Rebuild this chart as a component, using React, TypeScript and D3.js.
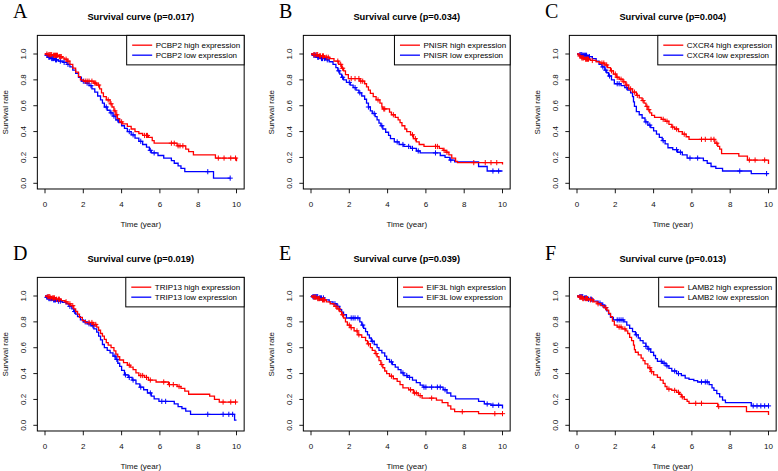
import React from "react";
import * as d3 from "d3";

// ---------- labels ----------
const panelLetters = ["A", "B", "C", "D", "E", "F"];
const genes = ["PCBP2", "PNISR", "CXCR4", "TRIP13", "EIF3L", "LAMB2"];
const pValues = ["0.017", "0.034", "0.004", "0.019", "0.039", "0.013"];
const xTicks = [0, 2, 4, 6, 8, 10];
const xTickLabels = ["0", "2", "4", "6", "8", "10"];
const yTicks = [0, 0.2, 0.4, 0.6, 0.8, 1.0];
const yTickLabels = ["0.0", "0.2", "0.4", "0.6", "0.8", "1.0"];

// ---------- data: [time, survival after drop] ----------
const aHighSteps = [[0.15,0.995],[0.4,0.99],[0.7,0.98],[0.9,0.97],[1.0,0.96],[1.15,0.945],[1.3,0.92],[1.45,0.89],[1.6,0.86],[1.75,0.825],[1.85,0.8],[2.0,0.79],[2.55,0.775],[2.7,0.76],[2.85,0.73],[2.95,0.7],[3.05,0.67],[3.2,0.645],[3.4,0.615],[3.5,0.59],[3.6,0.56],[3.7,0.53],[3.78,0.5],[3.9,0.475],[4.05,0.46],[4.3,0.44],[4.5,0.42],[4.7,0.4],[4.9,0.385],[5.1,0.37],[5.4,0.355],[5.6,0.33],[5.7,0.31],[6.9,0.29],[7.35,0.265],[7.5,0.245],[7.75,0.22],[8.9,0.195],[10.0,0.17]];
const aHighCensor = [0.1,0.2,0.25,0.3,0.35,0.45,0.5,0.55,0.6,0.65,0.75,0.8,0.85,1.1,1.2,2.1,2.2,2.3,2.45,2.6,2.65,2.8,3.3,3.45,3.65,3.75,4.0,5.2,5.3,5.35,6.6,6.75,6.95,7.05,7.2,9.05,9.35,9.7,9.95];
const aHighEnd = 10;
const aLowSteps = [[0.05,0.99],[0.15,0.975],[0.3,0.965],[0.5,0.955],[0.7,0.945],[0.95,0.935],[1.15,0.92],[1.3,0.9],[1.45,0.875],[1.6,0.85],[1.75,0.82],[1.9,0.79],[2.1,0.775],[2.3,0.755],[2.45,0.73],[2.6,0.705],[2.75,0.675],[2.9,0.645],[3.0,0.62],[3.1,0.59],[3.25,0.565],[3.4,0.545],[3.55,0.52],[3.7,0.49],[3.85,0.47],[4.0,0.445],[4.15,0.425],[4.3,0.4],[4.5,0.375],[4.7,0.35],[4.9,0.325],[5.1,0.3],[5.3,0.28],[5.45,0.255],[5.55,0.235],[5.9,0.215],[6.2,0.195],[6.6,0.175],[6.75,0.155],[6.95,0.135],[7.1,0.115],[7.3,0.09],[8.8,0.04]];
const aLowCensor = [0.1,0.2,0.25,0.35,0.4,0.45,0.55,0.6,0.8,1.0,1.2,2.0,2.2,2.4,3.2,3.45,3.6,3.8,4.4,4.6,5.0,5.5,5.7,8.5,9.67];
const aLowEnd = 9.67;

const bHighSteps = [[0.1,0.995],[0.4,0.985],[0.7,0.975],[0.95,0.965],[1.2,0.945],[1.45,0.92],[1.6,0.89],[1.7,0.87],[1.8,0.84],[1.95,0.81],[2.55,0.79],[2.8,0.77],[2.9,0.745],[3.0,0.72],[3.1,0.695],[3.25,0.67],[3.4,0.645],[3.6,0.62],[3.7,0.59],[3.75,0.575],[4.1,0.55],[4.2,0.53],[4.4,0.51],[4.55,0.49],[4.65,0.47],[4.75,0.445],[4.9,0.42],[5.0,0.4],[5.2,0.375],[5.35,0.345],[5.5,0.32],[5.65,0.3],[5.9,0.285],[6.7,0.27],[6.9,0.255],[7.05,0.24],[7.2,0.22],[7.35,0.195],[7.55,0.17],[7.65,0.16],[10.0,0.145]];
const bHighCensor = [0.15,0.2,0.3,0.35,0.45,0.5,0.6,0.65,0.8,0.9,1.4,1.55,1.65,2.1,2.3,2.5,2.6,2.7,3.5,3.8,3.85,4.3,5.3,5.45,6.5,6.6,6.95,7.1,8.5,9.1,9.4,9.7];
const bHighEnd = 10;
const bLowSteps = [[0.1,0.99],[0.3,0.975],[0.5,0.965],[0.75,0.955],[0.95,0.94],[1.15,0.92],[1.3,0.895],[1.4,0.87],[1.5,0.845],[1.6,0.82],[1.7,0.8],[1.85,0.78],[2.05,0.76],[2.2,0.74],[2.35,0.72],[2.5,0.7],[2.65,0.675],[2.8,0.65],[2.9,0.62],[3.0,0.59],[3.1,0.56],[3.2,0.54],[3.35,0.515],[3.45,0.49],[3.55,0.465],[3.65,0.445],[3.75,0.42],[3.9,0.395],[4.05,0.37],[4.15,0.345],[4.35,0.32],[4.6,0.3],[4.85,0.285],[5.2,0.27],[5.5,0.25],[5.7,0.235],[6.75,0.215],[7.0,0.2],[7.25,0.18],[7.5,0.165],[8.75,0.13],[9.2,0.095]];
const bLowCensor = [0.15,0.2,0.25,0.35,0.4,0.55,0.6,0.7,0.85,1.45,1.65,2.0,2.3,2.55,3.0,3.3,3.7,4.5,4.8,5.1,5.3,5.6,6.5,7.3,9.5,9.8];
const bLowEnd = 10;

const cHighSteps = [[0.1,0.985],[0.2,0.97],[0.4,0.96],[0.7,0.95],[1.0,0.94],[1.2,0.93],[1.45,0.915],[1.6,0.895],[1.75,0.87],[1.9,0.845],[2.05,0.82],[2.2,0.805],[2.4,0.785],[2.55,0.76],[2.7,0.73],[2.9,0.705],[3.1,0.68],[3.25,0.66],[3.4,0.64],[3.5,0.62],[3.6,0.595],[3.7,0.57],[3.8,0.545],[3.9,0.525],[4.05,0.51],[4.4,0.495],[4.6,0.48],[4.8,0.455],[4.95,0.435],[5.1,0.42],[5.3,0.4],[5.5,0.38],[5.7,0.36],[5.85,0.34],[7.2,0.31],[7.35,0.285],[7.45,0.265],[7.55,0.23],[8.45,0.21],[8.9,0.18],[10.0,0.15]];
const cHighCensor = [0.15,0.25,0.3,0.35,0.45,0.5,0.55,0.6,0.8,1.3,1.4,1.55,1.8,2.0,2.1,2.3,2.45,2.6,2.8,3.0,3.15,3.45,3.65,3.75,4.5,4.7,5.0,5.2,5.6,6.5,6.7,7.0,7.15,7.3,9.0,9.3,9.8];
const cHighEnd = 10;
const cLowSteps = [[0.1,0.995],[0.3,0.99],[0.6,0.98],[0.8,0.965],[1.0,0.945],[1.15,0.92],[1.3,0.9],[1.45,0.875],[1.55,0.855],[1.65,0.83],[1.8,0.8],[1.95,0.77],[2.3,0.755],[2.5,0.74],[2.65,0.72],[2.8,0.7],[2.9,0.67],[2.95,0.63],[3.0,0.595],[3.1,0.555],[3.25,0.53],[3.4,0.505],[3.55,0.475],[3.7,0.45],[3.85,0.43],[4.0,0.405],[4.15,0.38],[4.3,0.355],[4.45,0.33],[4.6,0.305],[4.75,0.275],[5.0,0.26],[5.25,0.24],[5.5,0.22],[5.75,0.195],[6.6,0.175],[6.8,0.155],[7.0,0.13],[7.25,0.115],[7.6,0.095],[9.1,0.075]];
const cLowCensor = [0.15,0.2,0.25,0.3,0.35,0.4,0.45,0.5,0.65,1.35,1.5,1.7,2.1,2.2,2.6,3.6,3.8,4.5,5.2,5.4,5.9,6.3,8.5,9.9];
const cLowEnd = 10;

const dHighSteps = [[0.1,0.995],[0.3,0.985],[0.6,0.975],[0.85,0.965],[1.05,0.955],[1.2,0.94],[1.35,0.925],[1.5,0.9],[1.6,0.88],[1.7,0.86],[1.8,0.835],[1.95,0.81],[2.1,0.795],[2.5,0.78],[2.7,0.76],[2.8,0.735],[2.9,0.71],[3.0,0.69],[3.1,0.665],[3.2,0.64],[3.3,0.62],[3.45,0.6],[3.6,0.575],[3.7,0.55],[3.8,0.53],[3.9,0.505],[4.1,0.485],[4.3,0.465],[4.45,0.45],[4.6,0.43],[4.75,0.405],[4.9,0.385],[5.2,0.37],[5.4,0.35],[5.8,0.335],[6.45,0.315],[6.9,0.3],[7.1,0.285],[7.3,0.265],[7.5,0.24],[8.6,0.225],[8.85,0.2],[9.1,0.18]];
const dHighCensor = [0.15,0.2,0.25,0.3,0.4,0.45,0.5,0.6,0.7,0.75,1.1,1.3,1.45,2.3,2.45,2.55,2.65,4.4,5.0,5.1,5.3,5.5,6.2,6.5,6.7,7.0,9.3,9.7,9.95];
const dHighEnd = 10;
const dLowSteps = [[0.05,0.99],[0.2,0.98],[0.4,0.97],[0.65,0.96],[0.9,0.95],[1.1,0.94],[1.25,0.92],[1.4,0.9],[1.5,0.88],[1.6,0.86],[1.7,0.84],[1.85,0.815],[2.0,0.8],[2.2,0.785],[2.4,0.77],[2.55,0.745],[2.7,0.72],[2.8,0.69],[2.9,0.66],[3.0,0.625],[3.1,0.6],[3.25,0.58],[3.4,0.56],[3.55,0.535],[3.7,0.51],[3.8,0.48],[3.9,0.455],[4.0,0.425],[4.15,0.39],[4.35,0.37],[4.55,0.35],[4.75,0.32],[4.95,0.295],[5.15,0.275],[5.35,0.25],[5.55,0.225],[5.7,0.205],[5.95,0.185],[6.75,0.165],[6.95,0.145],[7.15,0.13],[7.35,0.11],[7.6,0.085],[9.9,0.04]];
const dLowCensor = [0.1,0.15,0.2,0.25,0.3,0.35,0.45,0.5,0.55,0.7,0.8,1.3,1.55,2.1,2.3,2.5,3.65,3.75,4.2,4.4,4.6,5.0,5.5,6.1,6.3,8.5,9.3,9.6,9.8];
const dLowEnd = 10;

const eHighSteps = [[0.1,0.99],[0.3,0.98],[0.5,0.97],[0.8,0.955],[1.0,0.94],[1.2,0.92],[1.35,0.9],[1.5,0.88],[1.6,0.855],[1.7,0.83],[1.8,0.8],[1.9,0.775],[2.05,0.755],[2.25,0.73],[2.45,0.7],[2.65,0.68],[2.85,0.655],[2.95,0.63],[3.1,0.6],[3.2,0.58],[3.35,0.555],[3.45,0.53],[3.55,0.5],[3.65,0.47],[3.75,0.445],[3.85,0.42],[3.95,0.4],[4.1,0.38],[4.3,0.36],[4.5,0.34],[4.65,0.315],[4.8,0.29],[5.1,0.275],[5.35,0.25],[5.6,0.23],[5.8,0.21],[6.55,0.195],[6.85,0.175],[7.15,0.15],[7.3,0.125],[7.5,0.105],[8.75,0.09]];
const eHighCensor = [0.15,0.2,0.25,0.35,0.4,0.45,0.6,0.65,0.7,1.3,1.45,1.65,2.0,2.1,2.4,2.5,3.0,3.4,3.7,4.2,5.2,5.4,5.5,5.7,6.3,7.9,9.6,10.0];
const eHighEnd = 10;
const eLowSteps = [[0.1,0.995],[0.4,0.985],[0.7,0.97],[0.95,0.955],[1.15,0.94],[1.35,0.92],[1.5,0.895],[1.6,0.875],[1.7,0.855],[1.85,0.83],[2.55,0.8],[2.65,0.775],[2.75,0.75],[2.85,0.725],[2.95,0.7],[3.05,0.675],[3.15,0.65],[3.3,0.625],[3.45,0.6],[3.55,0.58],[3.7,0.56],[3.85,0.535],[3.95,0.51],[4.1,0.49],[4.25,0.47],[4.4,0.45],[4.55,0.43],[4.7,0.405],[4.85,0.385],[5.05,0.37],[5.3,0.35],[5.5,0.33],[5.7,0.31],[5.85,0.295],[6.9,0.275],[7.1,0.25],[7.3,0.225],[7.55,0.205],[8.75,0.185],[9.05,0.165],[9.4,0.155],[10.0,0.13]];
const eLowCensor = [0.1,0.15,0.2,0.25,0.3,0.35,0.45,0.5,0.55,0.65,1.25,1.4,2.1,2.2,2.3,2.45,2.7,3.2,4.2,4.8,5.0,5.15,5.9,6.0,6.3,6.6,6.75,7.0,9.2,9.5,9.8];
const eLowEnd = 10;

const fHighSteps = [[0.1,0.99],[0.3,0.98],[0.6,0.97],[0.85,0.955],[1.05,0.94],[1.25,0.925],[1.4,0.91],[1.55,0.89],[1.65,0.865],[1.75,0.84],[1.85,0.805],[1.95,0.775],[2.1,0.76],[2.35,0.745],[2.55,0.73],[2.65,0.71],[2.75,0.68],[2.85,0.655],[2.95,0.62],[3.0,0.585],[3.05,0.565],[3.2,0.545],[3.35,0.52],[3.45,0.5],[3.55,0.475],[3.7,0.445],[3.85,0.415],[4.0,0.39],[4.2,0.37],[4.35,0.35],[4.5,0.325],[4.6,0.3],[4.7,0.28],[4.95,0.27],[5.2,0.255],[5.35,0.24],[5.45,0.22],[5.6,0.2],[5.75,0.185],[5.85,0.17],[7.35,0.145],[8.85,0.105],[10.0,0.08]];
const fHighCensor = [0.15,0.2,0.25,0.3,0.35,0.45,0.5,0.55,0.7,0.8,1.1,1.5,2.2,2.3,2.5,3.8,3.9,4.8,5.1,5.3,5.5,6.2,6.5,7.4];
const fHighEnd = 10;
const fLowSteps = [[0.1,0.995],[0.35,0.985],[0.6,0.975],[0.85,0.96],[1.1,0.945],[1.3,0.93],[1.45,0.91],[1.55,0.885],[1.65,0.86],[1.75,0.835],[1.9,0.815],[2.45,0.8],[2.6,0.775],[2.75,0.75],[2.9,0.725],[3.05,0.7],[3.2,0.675],[3.3,0.655],[3.45,0.635],[3.6,0.61],[3.7,0.59],[3.85,0.565],[4.0,0.54],[4.1,0.515],[4.2,0.495],[4.45,0.48],[4.65,0.46],[4.8,0.44],[4.95,0.42],[5.2,0.4],[5.45,0.385],[5.65,0.365],[5.85,0.355],[6.1,0.345],[6.3,0.335],[6.9,0.315],[7.05,0.29],[7.15,0.27],[7.3,0.245],[7.45,0.22],[7.6,0.195],[7.75,0.175],[9.1,0.15]];
const fLowCensor = [0.15,0.2,0.25,0.3,0.4,0.45,0.5,0.6,0.7,0.75,1.2,1.35,1.5,2.1,2.2,2.3,2.4,3.1,3.6,3.75,4.4,4.55,4.7,5.1,5.3,6.5,6.7,6.8,9.2,9.4,9.6,9.8,10.0];
const fLowEnd = 10;

const highSteps = [aHighSteps, bHighSteps, cHighSteps, dHighSteps, eHighSteps, fHighSteps];
const highCensor = [aHighCensor, bHighCensor, cHighCensor, dHighCensor, eHighCensor, fHighCensor];
const highEnd = [aHighEnd, bHighEnd, cHighEnd, dHighEnd, eHighEnd, fHighEnd];
const lowSteps = [aLowSteps, bLowSteps, cLowSteps, dLowSteps, eLowSteps, fLowSteps];
const lowCensor = [aLowCensor, bLowCensor, cLowCensor, dLowCensor, eLowCensor, fLowCensor];
const lowEnd = [aLowEnd, bLowEnd, cLowEnd, dLowEnd, eLowEnd, fLowEnd];

// ---------- layout ----------
const W = 778;
const H = 471;
const colOffsets = [0, 266, 532];
const rowOffsets = [0, 242];
const FONT = "'Liberation Sans', Arial, Helvetica, sans-serif";
const RED = "#ff0000";
const BLUE = "#0000ff";

const x = d3.scaleLinear().domain([0, 10]).range([45, 236.5]);
const y = d3.scaleLinear().domain([0, 1]).range([183.3, 54]);
const boxL = x(-0.4), boxR = x(10.4), boxT = y(1.144), boxB = y(-0.044);

let _ctx: CanvasRenderingContext2D | null = null;
function measure(s: string, font: string) {
  if (!_ctx) _ctx = document.createElement("canvas").getContext("2d");
  if (!_ctx) return s.length * 4.2;
  _ctx.font = font;
  return _ctx.measureText(s).width;
}

function curvePoints(steps: number[][], end: number) {
  const pts: [number, number][] = [[0, 1]];
  steps.forEach((s) => pts.push([s[0], s[1]]));
  const last = pts[pts.length - 1];
  if (end > last[0]) pts.push([end, last[1]]);
  return pts;
}

function survAt(steps: number[][], t: number) {
  let s = 1;
  for (const st of steps) {
    if (st[0] <= t) s = st[1];
    else break;
  }
  return s;
}

const stepLine = d3
  .line<[number, number]>()
  .x((d) => x(d[0]))
  .y((d) => y(d[1]))
  .curve(d3.curveStepAfter);

function Curve({ steps, censor, end, color }: any) {
  const pts = curvePoints(steps, end);
  const m = 2.6;
  return (
    <g>
      <path d={stepLine(pts) || ""} fill="none" stroke={color} strokeWidth={1.3} />
      {censor.map((t: number, i: number) => {
        const cx = x(t);
        const cy = y(survAt(steps, t));
        return (
          <path
            key={i}
            d={`M${cx - m},${cy}H${cx + m}M${cx},${cy - m}V${cy + m}`}
            stroke={color}
            strokeWidth={1}
            fill="none"
          />
        );
      })}
    </g>
  );
}

function Panel({ i }: { i: number }) {
  const gx = colOffsets[i % 3];
  const gy = rowOffsets[Math.floor(i / 3)];
  const gene = genes[i];
  const hiLabel = `${gene} high expression`;
  const loLabel = `${gene} low expression`;
  const tw = Math.max(measure(hiLabel, `8px ${FONT}`), measure(loLabel, `8px ${FONT}`));
  const legW = tw + 33;
  const legH = 29.5;
  const legL = boxR - legW;
  const plotMid = (boxL + boxR) / 2;
  return (
    <g transform={`translate(${gx},${gy})`}>
      <text x={13} y={18} fontFamily="'Liberation Serif', 'Times New Roman', serif" fontSize={20} fill="#000">
        {panelLetters[i]}
      </text>
      <text x={plotMid} y={20} textAnchor="middle" fontFamily={FONT} fontWeight="bold" fontSize={9.3} fill="#000">
        {`Survival curve (p=${pValues[i]})`}
      </text>
      <rect x={boxL} y={boxT} width={boxR - boxL} height={boxB - boxT} fill="none" stroke="#000" strokeWidth={1} />
      {xTicks.map((t, k) => (
        <g key={k}>
          <line x1={x(t)} x2={x(t)} y1={boxB} y2={boxB + 4.3} stroke="#000" strokeWidth={0.9} />
          <text x={x(t)} y={boxB + 18} textAnchor="middle" fontFamily={FONT} fontSize={8} fill="#111">
            {xTickLabels[k]}
          </text>
        </g>
      ))}
      <text x={plotMid} y={boxB + 38} textAnchor="middle" fontFamily={FONT} fontSize={8} fill="#111">
        Time (year)
      </text>
      {yTicks.map((t, k) => (
        <g key={k}>
          <line x1={boxL - 4} x2={boxL} y1={y(t)} y2={y(t)} stroke="#000" strokeWidth={0.9} />
          <text
            transform={`translate(${boxL - 11.5},${y(t)}) rotate(-90)`}
            textAnchor="middle"
            fontFamily={FONT}
            fontSize={8}
            fill="#111"
          >
            {yTickLabels[k]}
          </text>
        </g>
      ))}
      <text
        transform={`translate(${7.5},${(boxT + boxB) / 2}) rotate(-90)`}
        textAnchor="middle"
        fontFamily={FONT}
        fontSize={8}
        fill="#111"
      >
        Survival rate
      </text>
      <Curve steps={lowSteps[i]} censor={lowCensor[i]} end={lowEnd[i]} color={BLUE} />
      <Curve steps={highSteps[i]} censor={highCensor[i]} end={highEnd[i]} color={RED} />
      <rect x={legL} y={boxT} width={legW} height={legH} fill="#fff" stroke="#000" strokeWidth={1} />
      <line x1={legL + 5.5} x2={legL + 25.5} y1={boxT + 9.8} y2={boxT + 9.8} stroke={RED} strokeWidth={1.3} />
      <line x1={legL + 5.5} x2={legL + 25.5} y1={boxT + 19.8} y2={boxT + 19.8} stroke={BLUE} strokeWidth={1.3} />
      <text x={legL + 29} y={boxT + 12.6} fontFamily={FONT} fontSize={8} fill="#000">
        {hiLabel}
      </text>
      <text x={legL + 29} y={boxT + 22.6} fontFamily={FONT} fontSize={8} fill="#000">
        {loLabel}
      </text>
    </g>
  );
}

export default function App() {
  return (
    <svg
      width={W}
      height={H}
      viewBox={`0 0 ${W} ${H}`}
      style={{ position: "absolute", left: 0, top: 0, background: "#fff" }}
    >
      <rect x={0} y={0} width={W} height={H} fill="#fff" />
      {[0, 1, 2, 3, 4, 5].map((i) => (
        <Panel key={i} i={i} />
      ))}
    </svg>
  );
}
